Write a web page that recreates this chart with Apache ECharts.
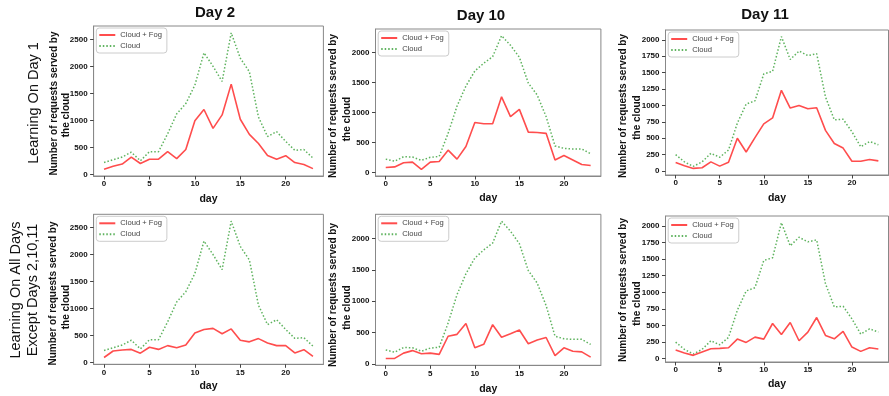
<!DOCTYPE html>
<html><head><meta charset="utf-8">
<script src="https://cdn.jsdelivr.net/npm/echarts@6/dist/echarts.min.js"></script>
<style>html,body{margin:0;padding:0;background:#fff}#c{width:889px;height:396px}</style>
</head><body><div id="c"></div>
<script>
// ---- data ----
const days = [0,1,2,3,4,5,6,7,8,9,10,11,12,13,14,15,16,17,18,19,20,21,22,23];
const xTicks = [0,5,10,15,20];
const yTicksDay2 = [0,500,1000,1500,2000,2500];
const yTicksDay10 = [0,500,1000,1500,2000];
const yTicksDay11 = [0,250,500,750,1000,1250,1500,1750,2000];

const day2Cloud   = [220,270,320,410,250,420,420,750,1120,1310,1650,2250,2000,1720,2620,2150,1900,1060,700,790,610,445,458,300];
const day2FogL1   = [95,150,190,320,200,280,280,420,290,460,990,1200,850,1100,1670,1020,740,570,350,280,345,217,180,105];
const day2FogAll  = [90,210,230,240,170,280,240,310,270,320,545,610,630,530,620,410,380,440,360,310,310,175,235,110];

const day10Cloud  = [220,185,260,255,200,250,265,650,1105,1440,1690,1820,1930,2280,2120,1920,1490,1290,930,440,400,390,390,310];
const day10FogL1  = [80,90,160,170,50,170,180,370,220,430,830,810,810,1260,930,1050,670,665,650,205,280,205,130,115];
const day10FogAll = [85,85,170,210,160,170,150,440,470,645,255,310,625,425,480,540,320,380,420,130,255,200,190,105];

const day11Cloud  = [250,140,70,140,270,210,320,730,1020,1070,1480,1520,2050,1700,1830,1760,1790,1130,780,790,600,370,450,400];
const day11FogL1  = [130,80,40,50,140,75,135,500,290,510,720,810,1230,960,1000,950,965,620,420,350,150,150,175,155];
const day11FogAll = [130,85,50,100,150,155,165,295,245,325,295,530,365,545,270,400,620,350,300,410,175,110,165,145];

const colTitles = ['Day 2','Day 10','Day 11'];
const seriesNames = ['Cloud + Fog','Cloud'];
const yLabel1 = 'Number of requests served by';
const yLabel2 = 'the cloud';
const xLabel = 'day';

// ---- panels ----
const panels = [
  {fog: day2FogL1,   cloud: day2Cloud,  ticks: yTicksDay2,  box:[93.6,26,229.8,150],   gap:18, yl:[54.3,103.5,66.7,115]},
  {fog: day10FogL1,  cloud: day10Cloud, ticks: yTicksDay10, box:[375.5,29,225.4,147],  gap:17, yl:[333,106,347,119]},
  {fog: day11FogL1,  cloud: day11Cloud, ticks: yTicksDay11, box:[665.5,30,223,145],    gap:18, yl:[623,106,637,117.5]},
  {fog: day2FogAll,  cloud: day2Cloud,  ticks: yTicksDay2,  box:[93.6,214.3,229.8,150], gap:16.5, yl:[53,293.5,66,307]},
  {fog: day10FogAll, cloud: day10Cloud, ticks: yTicksDay10, box:[375.5,214.3,225.4,151],gap:18.5, yl:[333,295,347,307.5]},
  {fog: day11FogAll, cloud: day11Cloud, ticks: yTicksDay11, box:[665.5,216,223,146],   gap:17, yl:[623,290,637,303.5]}
];

function padRange(lo, hi){ const m = (hi - lo) * 0.05; return [lo - m, hi + m]; }
const xr = padRange(Math.min(...days), Math.max(...days));

const FONT = 'Liberation Sans, Arial, sans-serif';
const grid = [], xAxis = [], yAxis = [], series = [], legend = [], graphic = [];
const plain = v => String(v);

panels.forEach((p, i) => {
  const all = p.fog.concat(p.cloud);
  const yr = padRange(Math.min(...all), Math.max(...all));
  const [L, T, W, H] = p.box;
  grid.push({left: L, top: T, width: W, height: H, show: true, borderColor: '#888', borderWidth: 1, backgroundColor: '#fff'});
  xAxis.push({
    type: 'value', gridIndex: i, min: xr[0], max: xr[1],
    axisLine: {show: true, onZero: false, lineStyle: {color: '#888'}},
    axisTick: {show: true, length: 3.5, lineStyle: {color: '#444'}, customValues: xTicks},
    axisLabel: {customValues: xTicks, formatter: plain, margin: 4, fontSize: 8, fontWeight: 'bold', color: '#111', fontFamily: FONT},
    splitLine: {show: false},
    name: xLabel, nameLocation: 'middle', nameGap: p.gap,
    nameTextStyle: {fontSize: 10.5, fontWeight: 'bold', color: '#111', fontFamily: FONT}
  });
  yAxis.push({
    type: 'value', gridIndex: i, min: yr[0], max: yr[1],
    axisLine: {show: true, onZero: false, lineStyle: {color: '#888'}},
    axisTick: {show: true, length: 3.5, lineStyle: {color: '#444'}, customValues: p.ticks},
    axisLabel: {customValues: p.ticks, formatter: plain, margin: 6, fontSize: 8, fontWeight: 'bold', color: '#111', fontFamily: FONT},
    splitLine: {show: false}
  });
  series.push({
    name: seriesNames[0], type: 'line', xAxisIndex: i, yAxisIndex: i,
    data: days.map((d, k) => [d, p.fog[k]]),
    symbol: 'none', showSymbol: false, color: '#ff4d4d',
    lineStyle: {color: '#ff4d4d', width: 1.6}, z: 3
  });
  series.push({
    name: seriesNames[1], type: 'line', xAxisIndex: i, yAxisIndex: i,
    data: days.map((d, k) => [d, p.cloud[k]]),
    symbol: 'none', showSymbol: false, color: '#5fb35f',
    lineStyle: {color: '#5fb35f', width: 1.5, type: [1.5, 2]}, z: 2
  });
  legend.push({
    orient: 'vertical', left: L + 2.7, top: T + 2, padding: [3, 5, 3, 2],
    itemWidth: 16, itemHeight: 8, itemGap: 3, selectedMode: false,
    backgroundColor: '#fff', borderColor: '#ccc', borderWidth: 1, borderRadius: 3,
    itemStyle: {color: 'rgba(0,0,0,0)', borderColor: 'rgba(0,0,0,0)', borderWidth: 0},
    textStyle: {fontSize: 7.6, color: '#444', fontFamily: FONT},
    data: seriesNames
  });
  graphic.push({type: 'text', x: p.yl[0], y: p.yl[1], rotation: Math.PI / 2,
    style: {text: yLabel1, font: 'bold 10px ' + FONT, fill: '#111', align: 'center', verticalAlign: 'middle'}});
  graphic.push({type: 'text', x: p.yl[2], y: p.yl[3], rotation: Math.PI / 2,
    style: {text: yLabel2, font: 'bold 10px ' + FONT, fill: '#111', align: 'center', verticalAlign: 'middle'}});
});

// column titles
[[215, 13], [481, 16], [765, 15]].forEach((pos, i) => {
  graphic.push({type: 'text', x: pos[0], y: pos[1],
    style: {text: colTitles[i], font: 'bold 15px ' + FONT, fill: '#111', align: 'center', verticalAlign: 'middle'}});
});
// row labels
graphic.push({type: 'text', x: 34, y: 103, rotation: Math.PI / 2,
  style: {text: 'Learning On Day 1', font: '14.5px ' + FONT, fill: '#111', align: 'center', verticalAlign: 'middle'}});
graphic.push({type: 'text', x: 16, y: 290, rotation: Math.PI / 2,
  style: {text: 'Learning On All Days', font: '14.5px ' + FONT, fill: '#111', align: 'center', verticalAlign: 'middle'}});
graphic.push({type: 'text', x: 33, y: 290, rotation: Math.PI / 2,
  style: {text: 'Except Days 2,10,11', font: '14.5px ' + FONT, fill: '#111', align: 'center', verticalAlign: 'middle'}});

const chart = echarts.init(document.getElementById('c'), null, {renderer: 'canvas'});
chart.setOption({animation: false, backgroundColor: '#fff', grid, xAxis, yAxis, series, legend, graphic});
</script></body></html>
